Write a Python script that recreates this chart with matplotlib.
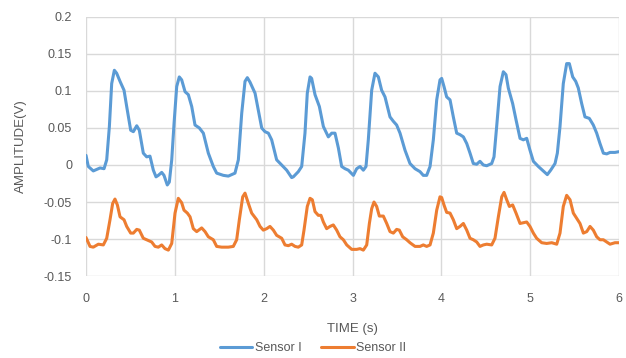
import numpy as np
import matplotlib
matplotlib.use("Agg")
import matplotlib.pyplot as plt
from matplotlib.ticker import FuncFormatter

# (time in s, amplitude in V)
t1 = [0.0, 0.026, 0.082, 0.158, 0.203, 0.233, 0.263, 0.289, 0.319, 0.345, 0.383, 0.428, 0.458,
      0.503, 0.533, 0.571, 0.600, 0.645, 0.683, 0.720, 0.758, 0.788, 0.814, 0.852, 0.878, 0.915,
      0.938, 0.965, 0.991, 1.021, 1.050, 1.077, 1.115, 1.152, 1.190, 1.227, 1.276, 1.321, 1.377,
      1.433, 1.471, 1.546, 1.602, 1.677, 1.715, 1.753, 1.790, 1.816, 1.846, 1.903, 1.940, 1.978,
      2.015, 2.053, 2.090, 2.146, 2.203, 2.259, 2.315, 2.334, 2.390, 2.428, 2.465, 2.491, 2.522,
      2.540, 2.578, 2.627, 2.672, 2.728, 2.766, 2.803, 2.841, 2.878, 2.916, 2.953, 3.010, 3.047,
      3.085, 3.122, 3.152, 3.178, 3.216, 3.253, 3.291, 3.328, 3.366, 3.422, 3.460, 3.497, 3.535,
      3.591, 3.647, 3.704, 3.760, 3.797, 3.835, 3.873, 3.910, 3.948, 3.985, 4.004, 4.030, 4.060,
      4.098, 4.135, 4.173, 4.210, 4.248, 4.286, 4.323, 4.360, 4.398, 4.435, 4.473, 4.511, 4.567,
      4.593, 4.623, 4.661, 4.698, 4.728, 4.754, 4.803, 4.841, 4.886, 4.923, 4.961, 4.998, 5.036,
      5.092, 5.148, 5.193, 5.231, 5.280, 5.306, 5.336, 5.373, 5.411, 5.441, 5.479, 5.513, 5.542,
      5.580, 5.617, 5.666, 5.711, 5.749, 5.786, 5.824, 5.862, 5.899, 5.955, 6.0]
sensor1 = [0.013, -0.002, -0.008, -0.004, -0.005, 0.007, 0.052, 0.110, 0.128, 0.124, 0.113, 0.101,
           0.079, 0.047, 0.045, 0.053, 0.047, 0.016, 0.011, 0.012, -0.007, -0.016, -0.014, -0.010,
           -0.014, -0.027, -0.023, 0.007, 0.056, 0.106, 0.119, 0.115, 0.099, 0.095, 0.079, 0.054,
           0.050, 0.043, 0.016, -0.002, -0.011, -0.014, -0.015, -0.011, 0.007, 0.070, 0.113, 0.118,
           0.112, 0.097, 0.074, 0.050, 0.045, 0.043, 0.034, 0.007, 0.0, -0.007, -0.017, -0.016,
           -0.009, -0.002, 0.043, 0.097, 0.119, 0.117, 0.095, 0.079, 0.052, 0.038, 0.043, 0.043,
           0.023, -0.002, -0.005, -0.007, -0.014, -0.005, -0.002, -0.007, -0.002, 0.034, 0.101,
           0.124, 0.119, 0.101, 0.092, 0.065, 0.059, 0.054, 0.043, 0.020, 0.002, -0.005, -0.009,
           -0.014, -0.014, -0.002, 0.034, 0.088, 0.115, 0.117, 0.106, 0.092, 0.088, 0.065, 0.043,
           0.041, 0.038, 0.029, 0.016, 0.002, 0.001, 0.005, 0.0, -0.001, 0.002, 0.011, 0.052, 0.106,
           0.126, 0.122, 0.104, 0.083, 0.061, 0.036, 0.034, 0.036, 0.020, 0.005, -0.002, -0.008,
           -0.013, -0.007, 0.002, 0.016, 0.052, 0.110, 0.137, 0.137, 0.119, 0.113, 0.104, 0.083,
           0.065, 0.063, 0.054, 0.043, 0.029, 0.016, 0.015, 0.017, 0.017, 0.018]

t2 = [0.0, 0.045, 0.082, 0.139, 0.195, 0.233, 0.270, 0.300, 0.326, 0.353, 0.383, 0.428, 0.458,
      0.503, 0.533, 0.571, 0.600, 0.645, 0.702, 0.739, 0.777, 0.814, 0.852, 0.889, 0.927, 0.965,
      1.002, 1.039, 1.077, 1.103, 1.141, 1.171, 1.208, 1.246, 1.302, 1.340, 1.377, 1.433, 1.471,
      1.527, 1.602, 1.658, 1.696, 1.726, 1.764, 1.790, 1.828, 1.865, 1.922, 1.959, 1.996, 2.034,
      2.071, 2.109, 2.146, 2.203, 2.240, 2.278, 2.315, 2.353, 2.390, 2.428, 2.454, 2.491, 2.522,
      2.548, 2.578, 2.615, 2.645, 2.672, 2.709, 2.747, 2.784, 2.822, 2.859, 2.897, 2.935, 2.991,
      3.047, 3.085, 3.122, 3.160, 3.190, 3.216, 3.242, 3.272, 3.302, 3.347, 3.385, 3.422, 3.460,
      3.497, 3.527, 3.565, 3.610, 3.647, 3.704, 3.760, 3.797, 3.835, 3.873, 3.910, 3.948, 3.985,
      4.004, 4.030, 4.060, 4.098, 4.135, 4.173, 4.210, 4.248, 4.286, 4.323, 4.360, 4.398, 4.435,
      4.473, 4.511, 4.567, 4.604, 4.642, 4.680, 4.706, 4.736, 4.766, 4.803, 4.841, 4.886, 4.923,
      4.961, 4.998, 5.036, 5.073, 5.130, 5.186, 5.243, 5.299, 5.336, 5.373, 5.411, 5.449, 5.486,
      5.524, 5.561, 5.599, 5.637, 5.674, 5.711, 5.749, 5.786, 5.824, 5.862, 5.899, 5.955, 6.0]
sensor2 = [-0.098, -0.110, -0.111, -0.107, -0.108, -0.099, -0.074, -0.052, -0.046, -0.054, -0.070,
           -0.074, -0.083, -0.092, -0.092, -0.087, -0.088, -0.099, -0.102, -0.104, -0.110, -0.111,
           -0.108, -0.113, -0.115, -0.106, -0.065, -0.045, -0.051, -0.061, -0.065, -0.070, -0.086,
           -0.090, -0.085, -0.090, -0.097, -0.101, -0.110, -0.111, -0.111, -0.110, -0.101, -0.074,
           -0.043, -0.038, -0.052, -0.065, -0.074, -0.083, -0.088, -0.086, -0.083, -0.088, -0.095,
           -0.099, -0.108, -0.109, -0.107, -0.110, -0.111, -0.108, -0.088, -0.056, -0.045, -0.047,
           -0.063, -0.068, -0.068, -0.077, -0.086, -0.083, -0.081, -0.088, -0.097, -0.101, -0.108,
           -0.114, -0.114, -0.113, -0.115, -0.108, -0.079, -0.059, -0.050, -0.056, -0.069, -0.069,
           -0.079, -0.090, -0.092, -0.087, -0.088, -0.097, -0.101, -0.105, -0.110, -0.110, -0.108,
           -0.110, -0.108, -0.092, -0.061, -0.043, -0.044, -0.054, -0.064, -0.065, -0.074, -0.086,
           -0.083, -0.079, -0.088, -0.099, -0.101, -0.104, -0.110, -0.108, -0.107, -0.108, -0.099,
           -0.070, -0.043, -0.037, -0.047, -0.056, -0.054, -0.065, -0.079, -0.078, -0.077, -0.083,
           -0.092, -0.099, -0.105, -0.106, -0.105, -0.107, -0.092, -0.056, -0.041, -0.047, -0.065,
           -0.072, -0.079, -0.092, -0.090, -0.083, -0.088, -0.097, -0.101, -0.101, -0.104, -0.107,
           -0.105, -0.105]

xticks = [0, 1, 2, 3, 4, 5, 6]
yticks = [-0.15, -0.1, -0.05, 0, 0.05, 0.1, 0.15, 0.2]

plt.rcParams['font.family'] = ['Liberation Sans', 'DejaVu Sans']

fig = plt.figure(figsize=(6.26, 3.58), dpi=100)
ax = fig.add_axes([0.1374, 0.229, 0.8514, 0.7236])

ax.plot(t1, sensor1, color='#5B9BD5', lw=2.2, label='Sensor I',
        solid_joinstyle='round', solid_capstyle='round')
ax.plot(t2, sensor2, color='#ED7D31', lw=2.2, label='Sensor II',
        solid_joinstyle='round', solid_capstyle='round')

ax.set_xlim(0, 6)
ax.set_ylim(-0.15, 0.2)
ax.set_xticks(xticks)
ax.set_yticks(yticks)
ax.yaxis.set_major_formatter(FuncFormatter(lambda v, p: '%g' % round(v, 2)))
ax.grid(True, color='#D9D9D9', lw=1)
ax.set_axisbelow(True)
for s in ax.spines.values():
    s.set_visible(False)
ax.tick_params(length=0, colors='#595959', labelsize=9)
ax.tick_params(axis='x', pad=12)
ax.tick_params(axis='y', pad=10)

ax.set_xlabel('TIME (s)', fontsize=9.5, color='#595959', labelpad=13)
ax.set_ylabel('AMPLITUDE(V)', fontsize=9.5, color='#595959', labelpad=12)

leg = fig.legend(loc='center', bbox_to_anchor=(0.5, 0.027), ncol=2, frameon=False,
                 fontsize=9, handlelength=2.6, handletextpad=0.2, columnspacing=1.6,
                 labelcolor='#595959')

fig.savefig('out.png', dpi=100)
